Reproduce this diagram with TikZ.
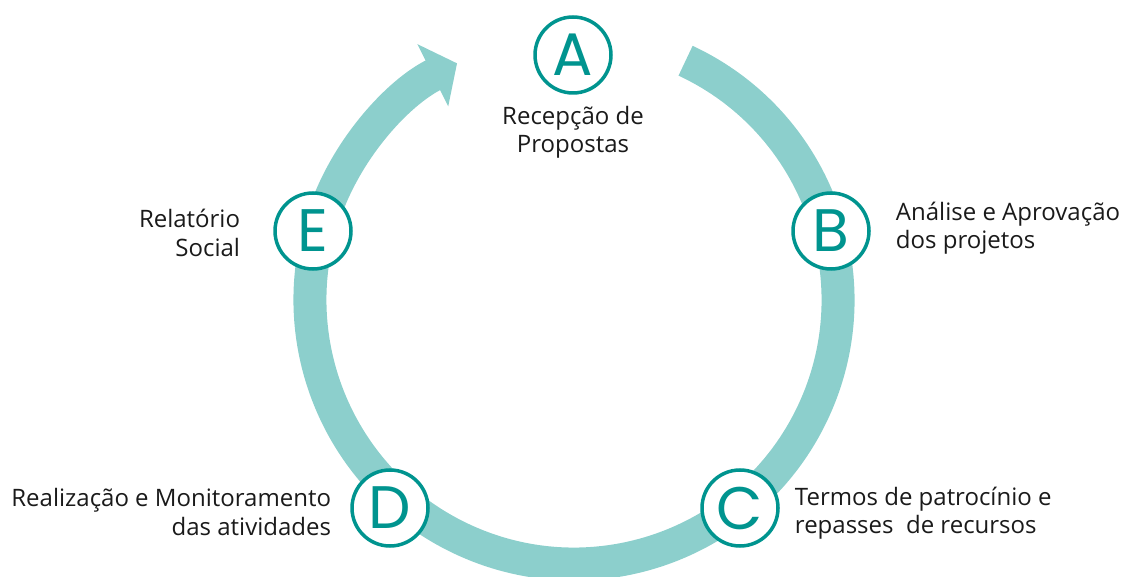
\documentclass[tikz,border=0pt]{standalone}
\usepackage{fontspec}
\setmainfont{Open Sans}
\newfontfamily\letterfont{Poppins}
\usetikzlibrary{arrows.meta, positioning}
\definecolor{ring}{HTML}{8CCFCC}
\definecolor{stage}{HTML}{00948F}
\definecolor{txt}{HTML}{1A1A1A}
\tikzset{
  st/.style={circle, draw=stage, line width=3.5pt, fill=white, minimum size=76pt, inner sep=0pt, text=stage, font=\letterfont\fontsize{60}{60}\selectfont},
  lb/.style={font=\fontsize{24}{28.5}\selectfont, text=txt, inner sep=0pt},
  ringarc/.style={draw=ring, line width=33pt},
}
\begin{document}
\begin{tikzpicture}[x=1pt, y=1pt, node distance=25pt]
\useasboundingbox (0,0) rectangle (1124,576);
% cycle ring
\draw[ringarc, -{Triangle[length=27pt, width=68pt]}] (574,276) ++(65:264) arc[start angle=65, end angle=-243.7, radius=264];
% stages
\node[st] (cA) at (573,521) {A};
\node[st] (cB) at (831,345) {B};
\node[st] (cC) at (740,68) {C};
\node[st] (cD) at (390,68) {D};
\node[st] (cE) at (313,345) {E};
% labels
\node[lb, align=center, below=11pt of cA] (tA) {Recepção de\\Propostas};
\node[lb, align=left, right=25pt of cB, yshift=3pt] (tB) {Análise e Aprovação\\dos projetos};
\node[lb, align=left, right=15pt of cC, yshift=-5pt] (tC) {Termos de patrocínio e\\repasses\ \ de recursos};
\node[lb, align=right, left=19pt of cD, yshift=-4pt] (tD) {Realização e Monitoramento\\das atividades};
\node[lb, align=right, left=33pt of cE, yshift=-2pt] (tE) {Relatório\\Social};
\end{tikzpicture}
\end{document}
